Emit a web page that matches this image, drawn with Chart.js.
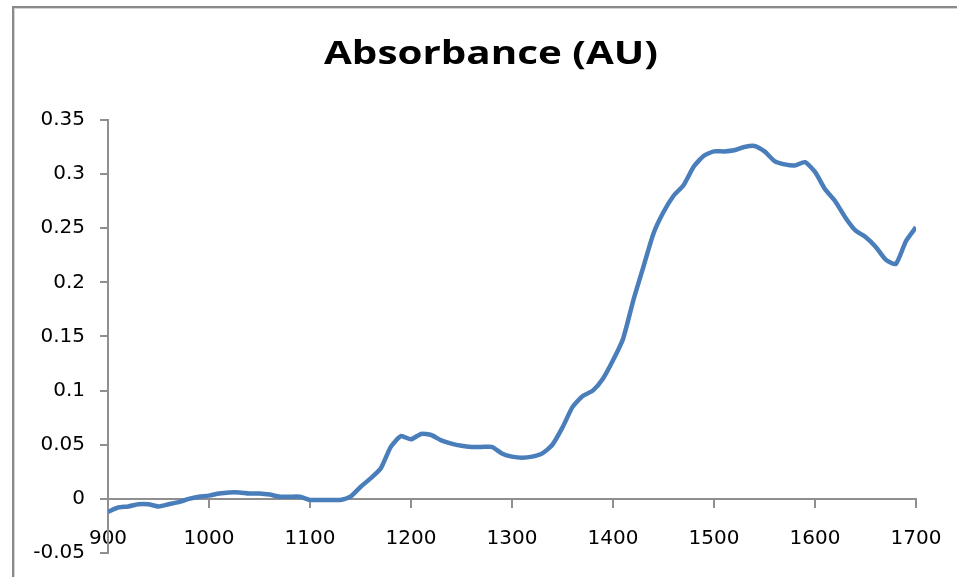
<!DOCTYPE html>
<html>
<head>
<meta charset="utf-8">
<title>Absorbance (AU)</title>
<script src="https://cdn.jsdelivr.net/npm/chart.js@4.4.1/dist/chart.umd.min.js"></script>
<style>
  html, body { margin: 0; padding: 0; background: #fff; }
  #wrap { position: relative; width: 957px; height: 577px; overflow: hidden; }
  #frame {
    position: absolute; left: 12px; top: 6px; width: 960px; height: 580px;
    border-top: 2px solid #8a8a8a; border-left: 2px solid #8a8a8a;
    box-shadow: inset 1px 1px 0 #d4d4d4;
  }
  #absCanvas { position: absolute; left: 0; top: 0; }
</style>
</head>
<body>
<div id="wrap">
  <div id="frame"></div>
  <canvas id="absCanvas" width="957" height="577"></canvas>
</div>
<script>
const titleText = "Absorbance (AU)";

const wavelengths = [
  900, 910, 920, 930, 940, 950, 960, 970, 980, 990,
  1000, 1010, 1020, 1030, 1040, 1050, 1060, 1070, 1080, 1090,
  1100, 1110, 1120, 1130, 1140, 1150, 1160, 1170, 1180, 1190,
  1200, 1210, 1220, 1230, 1240, 1250, 1260, 1270, 1280, 1290,
  1300, 1310, 1320, 1330, 1340, 1350, 1360, 1370, 1380, 1390,
  1400, 1410, 1420, 1430, 1440, 1450, 1460, 1470, 1480, 1490,
  1500, 1510, 1520, 1530, 1540, 1550, 1560, 1570, 1580, 1590,
  1600, 1610, 1620, 1630, 1640, 1650, 1660, 1670, 1680, 1690,
  1700,
];

const absorbance = [
  -0.012, -0.008, -0.007, -0.005, -0.005, -0.007, -0.005, -0.003, 0.0, 0.002,
  0.003, 0.005, 0.006, 0.006, 0.005, 0.005, 0.004, 0.002, 0.002, 0.002,
  -0.001, -0.001, -0.001, -0.001, 0.002, 0.011, 0.019, 0.028, 0.048, 0.058,
  0.055, 0.06, 0.059, 0.054, 0.051, 0.049, 0.048, 0.048, 0.048, 0.042,
  0.039, 0.038, 0.039, 0.042, 0.05, 0.066, 0.085, 0.095, 0.1, 0.111,
  0.128, 0.148, 0.183, 0.214, 0.245, 0.265, 0.28, 0.29, 0.307, 0.317,
  0.321, 0.321, 0.322, 0.325, 0.326, 0.321, 0.312, 0.309, 0.308, 0.311,
  0.302, 0.286, 0.275, 0.26, 0.248, 0.242, 0.233, 0.221, 0.217, 0.238,
  0.251,
];

const xTicks = [900, 1000, 1100, 1200, 1300, 1400, 1500, 1600, 1700];
const yTicks = [-0.05, 0, 0.05, 0.1, 0.15, 0.2, 0.25, 0.3, 0.35];

const axisGrey = "#8f8f8f";
const tickFont = { family: "'DejaVu Sans', Verdana, sans-serif", size: 20 };

// chart title drawn by hand so it can sit where Excel put it
const titlePlugin = {
  id: "excel_title",
  afterDraw: (chart) => {
    const ctx = chart.ctx;
    ctx.save();
    ctx.font = "bold 33px 'Open Sans', sans-serif";
    ctx.fillStyle = "#000";
    ctx.textBaseline = "alphabetic";
    ctx.textAlign = "center";
    const w = ctx.measureText(titleText).width;
    const sx = 334 / w;
    ctx.translate(491, 64);
    ctx.scale(sx, 1);
    ctx.fillText(titleText, 0, 0);
    ctx.restore();
  },
};

const points = wavelengths.map((x, i) => ({ x: x, y: absorbance[i] }));

const config = {
  type: "line",
  data: {
    datasets: [
      {
        label: "Absorbance",
        data: points,
        borderColor: "#4a7ebb",
        borderWidth: 4.5,
        pointRadius: 0,
        tension: 0.2,
        fill: false,
      },
    ],
  },
  options: {
    responsive: false,
    animation: false,
    layout: {
      padding: { left: 0, top: 120, right: 41, bottom: 24 },
    },
    plugins: {
      legend: { display: false },
      title: { display: false },
      tooltip: { enabled: false },
    },
    scales: {
      x: {
        type: "linear",
        min: 900,
        max: 1700,
        position: { y: 0 },
        afterBuildTicks: (scale) => {
          scale.ticks = xTicks.map((v) => ({ value: v }));
        },
        afterFit: (scale) => {
          scale.height = 0;
          scale.paddingLeft = 0;
          scale.paddingRight = 0;
        },
        ticks: {
          font: tickFont,
          color: "#000",
          padding: 20,
          maxRotation: 0,
          autoSkip: false,
          callback: (v) => String(v),
        },
        grid: {
          drawOnChartArea: false,
          drawTicks: true,
          tickLength: 8,
          color: axisGrey,
          lineWidth: 2,
        },
        border: { color: axisGrey, width: 2 },
      },
      y: {
        min: -0.05,
        max: 0.35,
        afterBuildTicks: (scale) => {
          scale.ticks = yTicks.map((v) => ({ value: v }));
        },
        afterFit: (scale) => {
          scale.width = 108;
          scale.paddingTop = 0;
          scale.paddingBottom = 0;
        },
        ticks: {
          font: tickFont,
          color: "#000",
          padding: 15,
          callback: (v) => String(Number(v.toFixed(2))),
        },
        grid: {
          drawOnChartArea: false,
          drawTicks: true,
          tickLength: 8,
          color: axisGrey,
          lineWidth: 2,
        },
        border: { color: axisGrey, width: 2 },
      },
    },
  },
  plugins: [titlePlugin],
};

const canvas = document.getElementById("absCanvas");
if (canvas) {
  new Chart(canvas.getContext("2d"), config);
} else {
  console.error("canvas not found");
}
</script>
</body>
</html>
